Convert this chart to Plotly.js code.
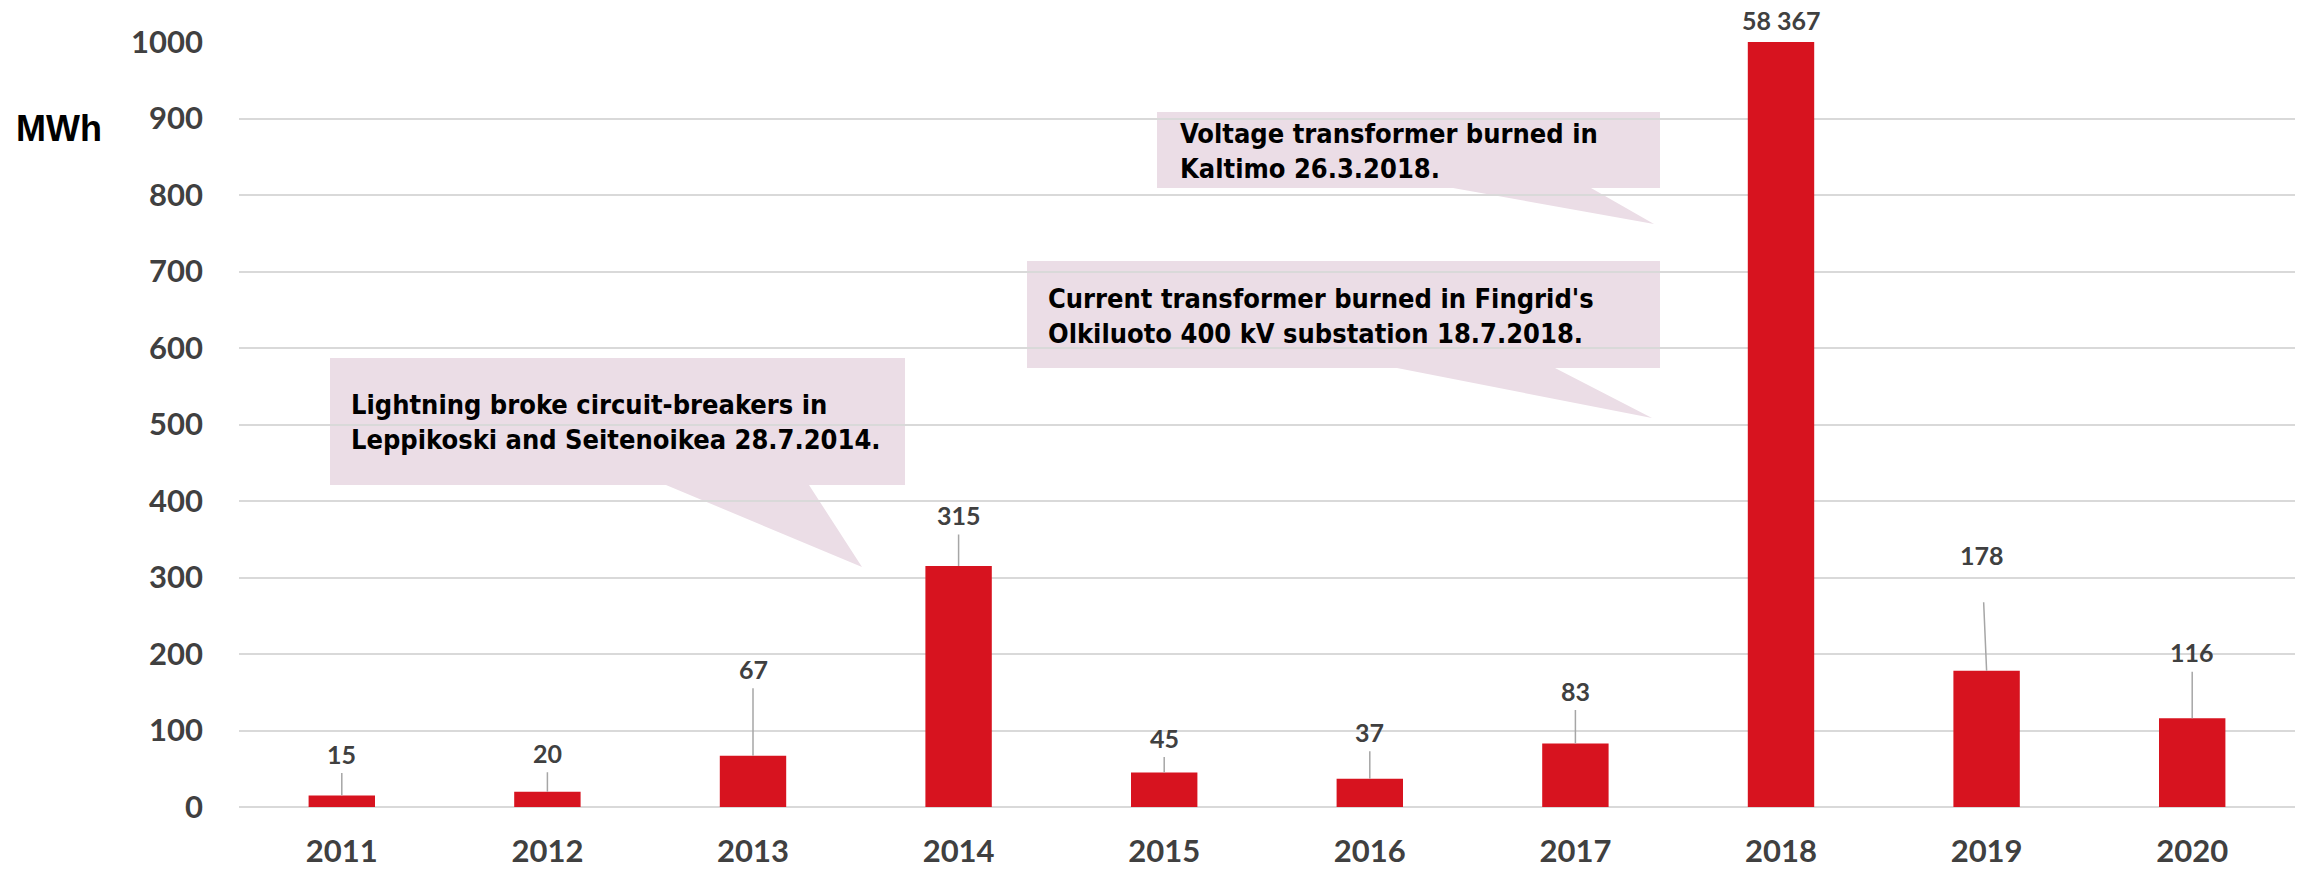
<!DOCTYPE html>
<html>
<head>
<meta charset="utf-8">
<script src="https://cdn.plot.ly/plotly-3.0.1.min.js"></script>
<style>html,body{margin:0;padding:0;background:#fff;}#chart{width:2310px;height:870px;}</style>
</head>
<body>
<div id="chart"></div>
<script>
// ---- data ----
const years = ['2011','2012','2013','2014','2015','2016','2017','2018','2019','2020'];
const values = [15, 20, 67, 315, 45, 37, 83, 58367, 178, 116];
const yTicks = [0, 100, 200, 300, 400, 500, 600, 700, 800, 900, 1000];
const yUnit = 'MWh';
const callout1 = 'Lightning broke circuit-breakers in<br>Leppikoski and Seitenoikea 28.7.2014.';
const callout2 = 'Voltage transformer burned in<br>Kaltimo 26.3.2018.';
const callout3 = "Current transformer burned in Fingrid's<br>Olkiluoto 400 kV substation 18.7.2018.";

// ---- layout constants (pixels) ----
const W = 2310, H = 870, L = 239, R = 15, T = 42, B = 63;
const PW = W - L - R, PH = H - T - B;
const px2x = p => (p - L) / PW;
const py2y = p => (H - B - p) / PH;
const yMax = 1000;

const labelLift = [42, 39, 87, 51, 35, 47, 53, 0, 116, 66];   // label centre above bar top
const labelGap  = [20, 20, 20, 20, 20, 20, 20, 0, 48, 20];    // leader start below label centre
const labelDx   = [0, 0, 0, 0, 0, 0, 0, 0, -5, 0];

const fmt = v => String(v).replace(/\B(?=(\d{3})+(?!\d))/g, ' ');

const labelFont = {family: 'Lato, "Open Sans", sans-serif', size: 25, color: '#404040', weight: 700};
const halfText = 16;

const annotations = [];
values.forEach((v, i) => {
  if (v > yMax) {
    annotations.push({x: i, y: yMax, xref: 'x', yref: 'y', text: fmt(v), showarrow: false,
      yanchor: 'middle', yshift: 22, font: labelFont});
  } else {
    annotations.push({x: i, y: v, xref: 'x', yref: 'y', text: fmt(v), showarrow: true,
      arrowhead: 0, arrowwidth: 1.5, arrowcolor: '#A6A6A6', standoff: 0,
      ax: labelDx[i], ay: -labelLift[i], borderpad: Math.max(0, labelGap[i] - halfText),
      font: labelFont});
  }
});

annotations.push({xref: 'paper', yref: 'paper', x: px2x(14), y: py2y(128), xanchor: 'left', yanchor: 'middle',
  text: yUnit, showarrow: false, font: {family: '"Liberation Sans", Arial, sans-serif', size: 36, color: '#000', weight: 700}});

const calloutFont = {family: '"Liberation Sans Narrow", "Arial Narrow", "DejaVu Sans Condensed", sans-serif', size: 27, color: '#000', weight: 700};
const callouts = [
  {text: callout1, box: [330, 358, 905, 485], tail: [[809, 485], [862, 567], [666, 485]], tx: 349, ty: 422},
  {text: callout2, box: [1157, 112, 1660, 188], tail: [[1591, 188], [1654, 224], [1453, 188]], tx: 1178, ty: 151},
  {text: callout3, box: [1027, 261, 1660, 368], tail: [[1555, 368], [1652, 418], [1397, 368]], tx: 1046, ty: 316}
];
const shapes = callouts.map(c => {
  const [x0, y0, x1, y1] = c.box;
  const pts = [[x0, y0], [x1, y0], [x1, y1]].concat(c.tail, [[x0, y1]]);
  const path = pts.map((p, k) => (k ? 'L' : 'M') + px2x(p[0]).toFixed(5) + ',' + py2y(p[1]).toFixed(5)).join(' ') + ' Z';
  return {type: 'path', xref: 'paper', yref: 'paper', path: path, fillcolor: '#EBDDE6', line: {width: 0}, layer: 'below'};
});
callouts.forEach(c => annotations.push({xref: 'paper', yref: 'paper', x: px2x(c.tx), y: py2y(c.ty),
  xanchor: 'left', yanchor: 'middle', align: 'left', text: c.text, showarrow: false, font: calloutFont}));

const trace = {type: 'bar', x: years, y: values, marker: {color: '#D7131F'}, hoverinfo: 'none'};

const tickFont = {family: 'Lato, "Open Sans", sans-serif', size: 31, color: '#404040', weight: 700};
const layout = {
  width: W, height: H,
  margin: {l: L, r: R, t: T, b: B, pad: 0},
  paper_bgcolor: '#fff', plot_bgcolor: '#fff',
  showlegend: false, hovermode: false,
  bargap: 0.677,
  xaxis: {type: 'category', range: [-0.5, years.length - 0.5], autorange: false, tickfont: tickFont,
    showgrid: false, showline: false, zeroline: false, ticks: '', ticklabelstandoff: 23, fixedrange: true},
  yaxis: {range: [0, yMax], autorange: false, tickvals: yTicks, ticktext: yTicks.map(String), tickfont: tickFont,
    showgrid: true, gridcolor: '#D9D9D9', gridwidth: 2, zeroline: true, zerolinecolor: '#D9D9D9', zerolinewidth: 2,
    showline: false, ticks: '', ticklabelstandoff: 35, fixedrange: true},
  annotations: annotations,
  shapes: shapes
};
Plotly.newPlot('chart', [trace], layout, {displayModeBar: false, staticPlot: true});
</script>
</body>
</html>
